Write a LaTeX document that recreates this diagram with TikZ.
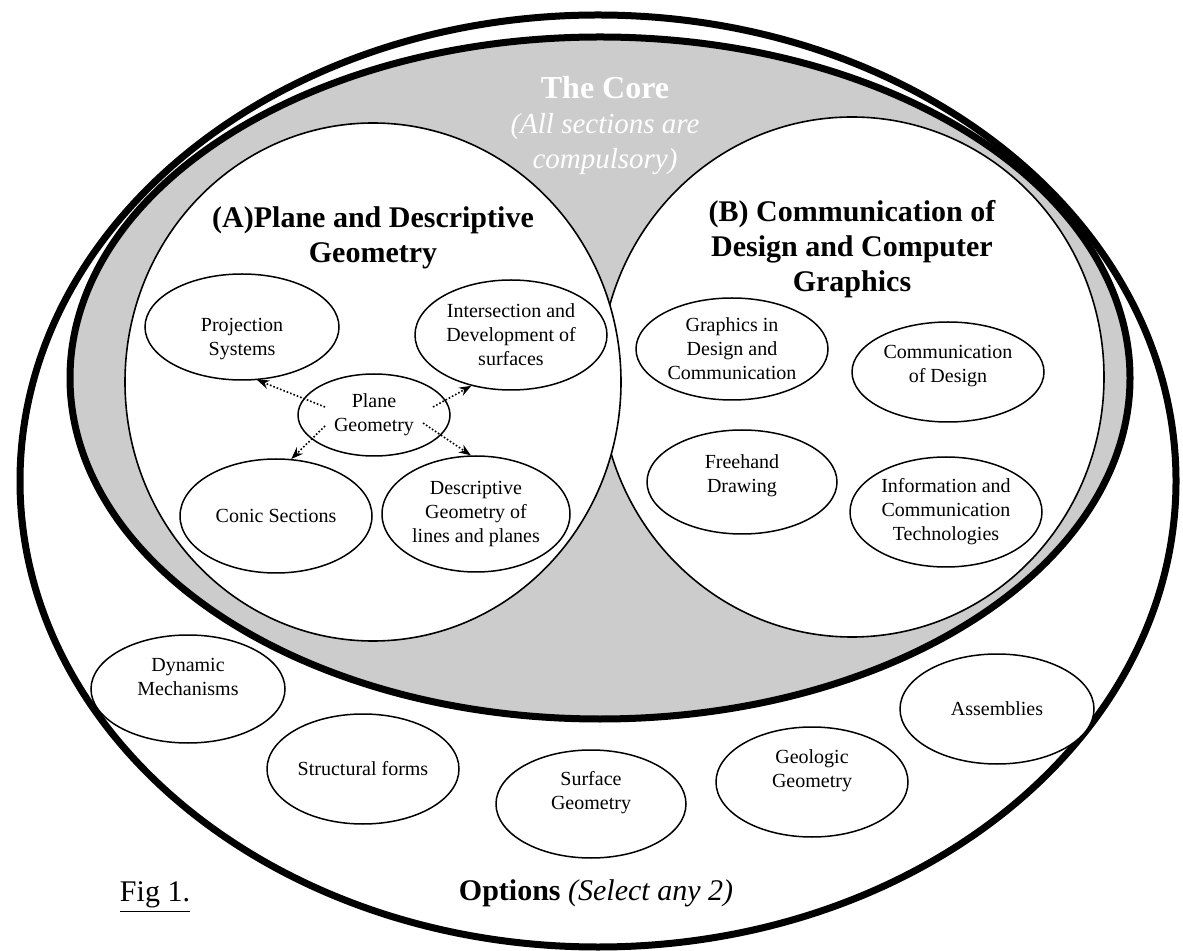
\documentclass[tikz,border=0pt]{standalone}
\usepackage{fontspec}
\setmainfont{Liberation Serif}
\usetikzlibrary{shapes.geometric,arrows.meta,calc}
\definecolor{coregray}{HTML}{CCCCCC}

\begin{document}
\begin{tikzpicture}[x=0.5pt, y=-0.5pt, >={Stealth[length=6pt,width=4.5pt]},
    topic/.style={ellipse, draw, line width=0.75pt, fill=white, inner sep=0pt, align=center, minimum width=96pt, minimum height=55pt, font=\fontsize{10}{12}\selectfont},
    lift/.style={text height=#1, text depth=0pt},
    head/.style={align=center, font=\fontsize{15}{17.5}\selectfont\bfseries},
    dots/.style={->, densely dotted, line width=0.8pt}]
    \useasboundingbox (0,0) rectangle (1183,951);
    \draw[line width=3.5pt, fill=white] (598,481) ellipse [x radius=578, y radius=466];
    \draw[line width=3.5pt, fill=coregray] (600,378) ellipse [x radius=530, y radius=341];
    \draw[line width=0.8pt, fill=white] (852,377) ellipse [x radius=252, y radius=260];
    \draw[line width=0.8pt, fill=white] (373,382) ellipse [x radius=248, y radius=259];
    \node[align=center, text=white, font=\fontsize{14.5}{17.5}\selectfont\itshape] (core) at (605,126) {{\fontsize{16}{17.5}\selectfont\bfseries\upshape The Core}\\(All sections are\\compulsory)};
    \node[head] (ta) at (373,238) {(A)Plane and Descriptive\\Geometry};
    \node[head] (tb) at (852,249) {(B) Communication of\\Design and Computer\\Graphics};
    \node[topic, lift=29pt, minimum width=97pt, minimum height=53pt] (proj) at (242,327) {Projection\\Systems};
    \node[topic] (inter) at (511,335) {Intersection and\\Development of\\surfaces};
    \node[topic, minimum width=76pt, minimum height=41pt] (plane) at (374,415) {Plane\\Geometry};
    \node[topic, minimum height=57pt] (conic) at (276,516) {Conic Sections};
    \node[topic, minimum width=94pt, minimum height=58pt] (desc) at (476,514) {Descriptive\\Geometry of\\lines and planes};
    \node[topic, minimum height=51pt] (gid) at (732,349) {Graphics in\\Design and\\Communication};
    \node[topic, lift=11pt, minimum height=50pt] (cod) at (948,372) {Communication\\of Design};
    \node[topic, lift=11pt, minimum width=95pt, minimum height=52pt] (free) at (742,482) {Freehand\\Drawing};
    \node[topic] (ict) at (946,512) {Information and\\Communication\\Technologies};
    \node[topic, lift=6pt, minimum width=97pt, minimum height=54pt] (dyn) at (188,689) {Dynamic\\Mechanisms};
    \node[topic] (struc) at (363,769) {Structural forms};
    \node[topic, lift=5pt, minimum width=95pt, minimum height=54pt] (surf) at (591,804) {Surface\\Geometry};
    \node[topic, lift=5pt] (geo) at (812,782) {Geologic\\Geometry};
    \node[topic, minimum width=97pt] (assem) at (997,709) {Assemblies};
    \coordinate (p1) at ($(plane)+(-49,-8)$);
    \coordinate (p2) at ($(plane)+(59,-8)$);
    \coordinate (p3) at ($(plane)+(-49,11)$);
    \coordinate (p4) at ($(plane)+(49,8)$);
    \draw[dots] (p1) -- (proj.-74);
    \draw[dots] (p2) -- (inter.-128);
    \draw[dots] (p3) -- (conic.75);
    \draw[dots] (p4) -- (desc.95);
    \node[font=\fontsize{15}{18}\selectfont] (opt) at (596,893) {\textbf{Options} \textit{(Select any 2)}};
    \node[font=\fontsize{15}{18}\selectfont] (fig) at (155,897) {\underline{Fig 1.}};
\end{tikzpicture}
\end{document}
